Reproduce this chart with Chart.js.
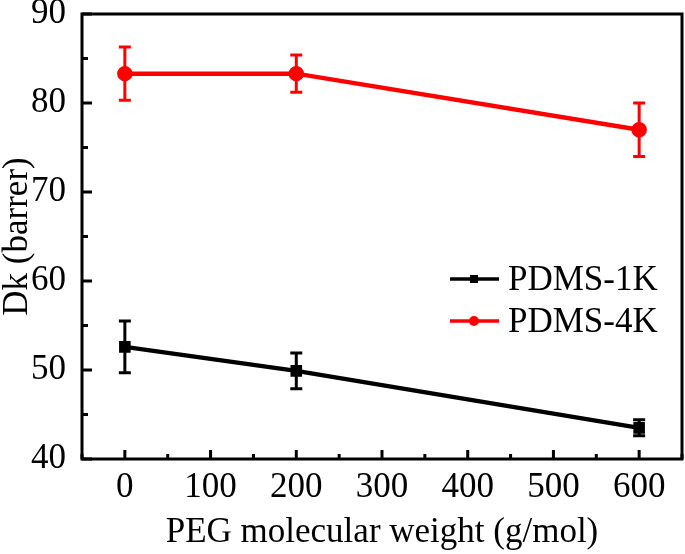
<!DOCTYPE html>
<html>
<head>
<meta charset="utf-8">
<script src="https://cdn.jsdelivr.net/npm/chart.js@4"></script>
<style>
  html, body { margin: 0; padding: 0; background: #fff; }
  #wrap { width: 685px; height: 554px; }
</style>
</head>
<body>
<div id="wrap"><canvas id="dkChart" width="685" height="554"></canvas></div>
<script>
// данные с картинки
const pegMw = [0, 200, 600];
const dk1k = [52.6, 49.9, 43.5];
const err1k = [2.9, 2.0, 0.9];
const dk4k = [83.3, 83.3, 77.0];
const err4k = [3.0, 2.1, 3.0];
const xTicks = [0, 100, 200, 300, 400, 500, 600];
const xMinor = [-50, 50, 150, 250, 350, 450, 550, 650];
const yTicks = [40, 50, 60, 70, 80, 90];
const yMinor = [45, 55, 65, 75, 85];

const FONT = '"Liberation Serif", "Times New Roman", serif';
const FSIZE = 35;

function points(xs, ys) {
    return xs.map((x, i) => ({ x: x, y: ys[i] }));
}

// планки погрешностей
const errorBars = {
    id: 'errorBars',
    afterDatasetsDraw(chart) {
        const ctx = chart.ctx;
        const xs = chart.scales.x, ys = chart.scales.y;
        chart.data.datasets.forEach(ds => {
            ctx.save();
            ctx.strokeStyle = ds.borderColor;
            ctx.lineWidth = 3;
            ds.data.forEach((p, i) => {
                const px = xs.getPixelForValue(p.x);
                const top = ys.getPixelForValue(p.y + ds.errors[i]);
                const bot = ys.getPixelForValue(p.y - ds.errors[i]);
                ctx.beginPath();
                ctx.moveTo(px, top); ctx.lineTo(px, bot);
                ctx.moveTo(px - 6, top); ctx.lineTo(px + 6, top);
                ctx.moveTo(px - 6, bot); ctx.lineTo(px + 6, bot);
                ctx.stroke();
            });
            ctx.restore();
        });
    }
};

// рамка и засечки внутрь
const frame = {
    id: 'frame',
    afterDraw(chart) {
        const ctx = chart.ctx;
        const a = chart.chartArea;
        const xs = chart.scales.x, ys = chart.scales.y;
        ctx.save();
        ctx.strokeStyle = '#000';
        ctx.lineWidth = 3;
        ctx.strokeRect(a.left, a.top, a.right - a.left, a.bottom - a.top);
        ctx.beginPath();
        xTicks.forEach(v => { const p = xs.getPixelForValue(v); ctx.moveTo(p, a.bottom); ctx.lineTo(p, a.bottom - 9); });
        xMinor.forEach(v => { const p = xs.getPixelForValue(v); ctx.moveTo(p, a.bottom); ctx.lineTo(p, a.bottom - 5); });
        yTicks.forEach(v => { const p = ys.getPixelForValue(v); ctx.moveTo(a.left, p); ctx.lineTo(a.left + 10, p); });
        yMinor.forEach(v => { const p = ys.getPixelForValue(v); ctx.moveTo(a.left, p); ctx.lineTo(a.left + 6, p); });
        ctx.stroke();
        ctx.restore();
    }
};

// легенда внутри области графика
const innerLegend = {
    id: 'innerLegend',
    afterDraw(chart) {
        const ctx = chart.ctx;
        const rows = [279, 321];
        ctx.save();
        ctx.font = FSIZE + 'px ' + FONT;
        ctx.textBaseline = 'middle';
        chart.data.datasets.forEach((ds, i) => {
            const y = rows[i];
            ctx.strokeStyle = ds.borderColor;
            ctx.lineWidth = 3.5;
            ctx.beginPath(); ctx.moveTo(450, y); ctx.lineTo(499, y); ctx.stroke();
            ctx.fillStyle = ds.borderColor;
            if (ds.pointStyle === 'rect') {
                ctx.fillRect(470, y - 4, 8, 8);
            } else {
                ctx.beginPath(); ctx.arc(474, y, 5, 0, Math.PI * 2); ctx.fill();
            }
            ctx.fillStyle = '#000';
            ctx.fillText(ds.label, 508, y + 2);
        });
        ctx.restore();
    }
};

const ctx = document.getElementById('dkChart').getContext('2d');
new Chart(ctx, {
    type: 'scatter',
    data: {
        datasets: [
            {
                label: 'PDMS-1K',
                data: points(pegMw, dk1k),
                errors: err1k,
                showLine: true,
                borderColor: '#000000',
                backgroundColor: '#000000',
                borderWidth: 4.5,
                pointStyle: 'rect',
                pointRadius: 5,
                tension: 0
            },
            {
                label: 'PDMS-4K',
                data: points(pegMw, dk4k),
                errors: err4k,
                showLine: true,
                borderColor: '#ff0000',
                backgroundColor: '#ff0000',
                borderWidth: 4.5,
                pointStyle: 'circle',
                pointRadius: 5.5,
                tension: 0
            }
        ]
    },
    options: {
        responsive: false,
        animation: false,
        devicePixelRatio: 1,
        layout: { autoPadding: false, padding: { top: 14, right: 3, left: 0, bottom: 0 } },
        plugins: { legend: { display: false }, tooltip: { enabled: false } },
        scales: {
            x: {
                type: 'linear',
                min: -50,
                max: 650,
                afterBuildTicks: s => { s.ticks = xTicks.map(v => ({ value: v })); },
                afterFit: s => { s.height = 95; s.paddingLeft = 0; s.paddingRight = 0; },
                grid: { display: false },
                border: { display: false },
                ticks: { color: '#000', font: { family: FONT, size: FSIZE, lineHeight: 1 }, padding: 3, maxRotation: 0 },
                title: { display: true, text: 'PEG molecular weight (g/mol)', color: '#000', font: { family: FONT, size: FSIZE, lineHeight: 1 }, padding: { top: 6 } }
            },
            y: {
                type: 'linear',
                min: 40,
                max: 90,
                afterBuildTicks: s => { s.ticks = yTicks.map(v => ({ value: v })); },
                afterFit: s => { s.width = 82; s.paddingTop = 0; s.paddingBottom = 0; },
                grid: { display: false },
                border: { display: false },
                ticks: { color: '#000', font: { family: FONT, size: FSIZE, lineHeight: 1 }, padding: 8 },
                title: { display: true, text: 'Dk (barrer)', color: '#000', font: { family: FONT, size: FSIZE, lineHeight: 1 }, padding: 0 }
            }
        }
    },
    plugins: [errorBars, frame, innerLegend]
});
</script>
</body>
</html>
